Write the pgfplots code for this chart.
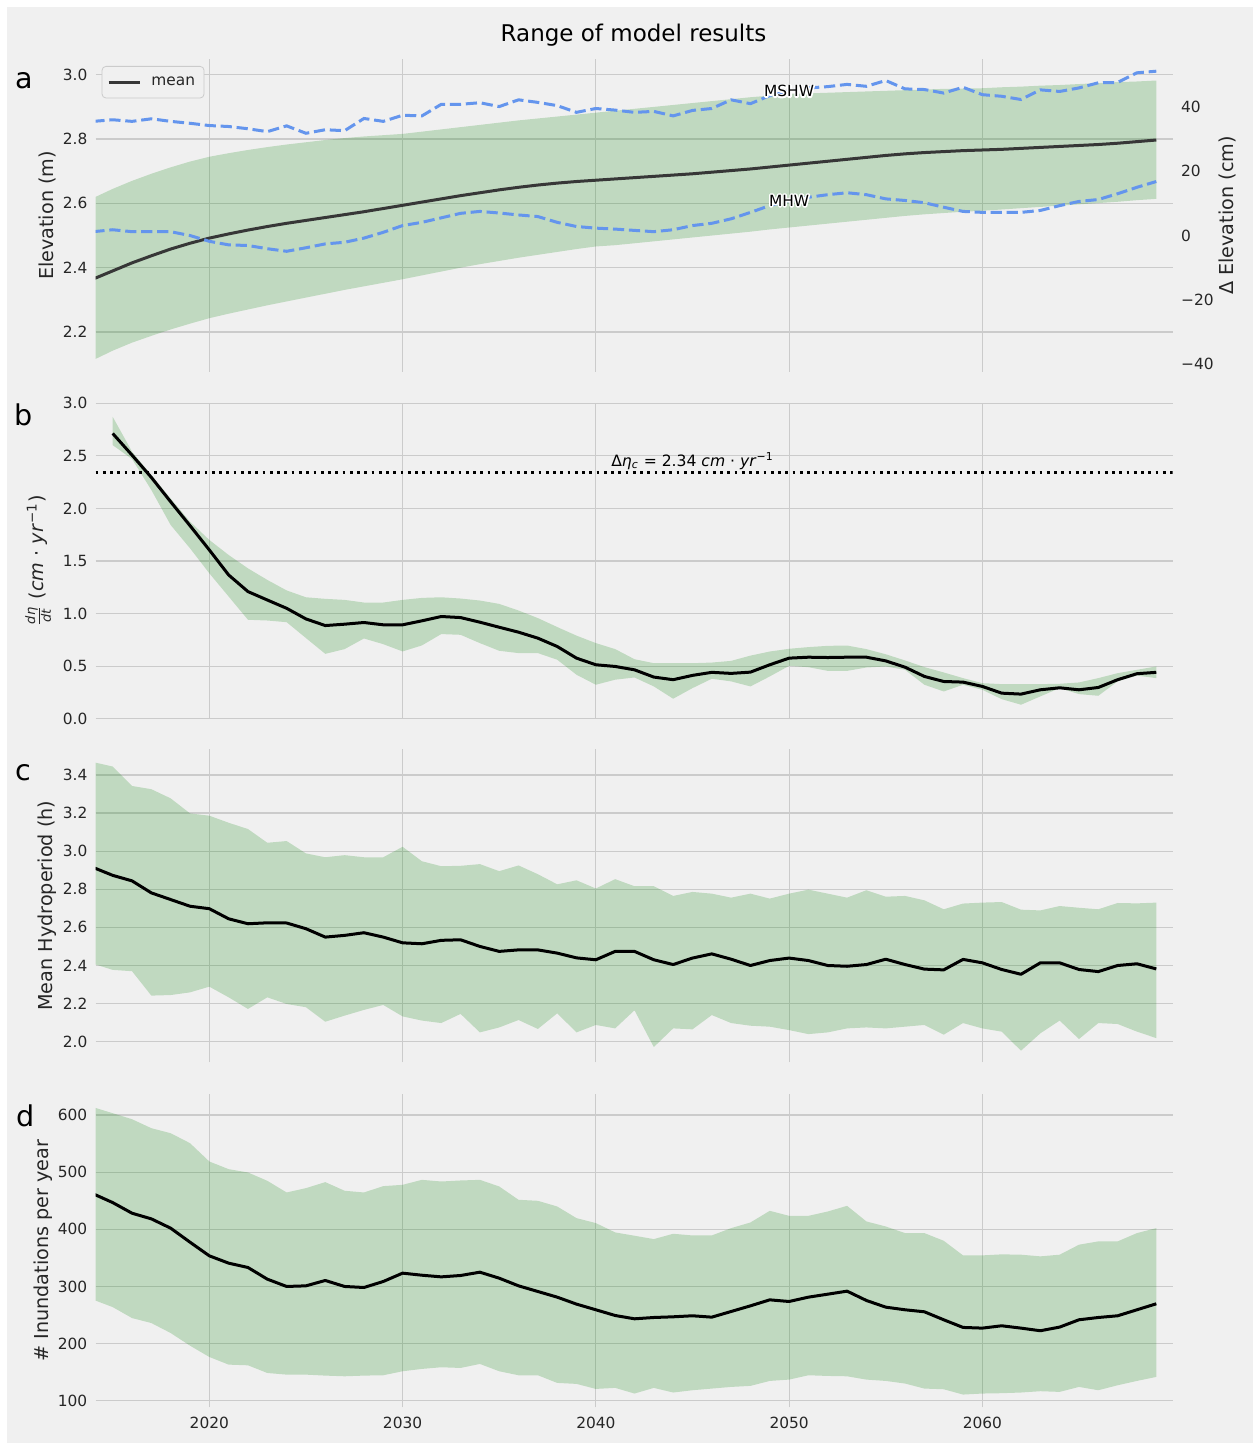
\documentclass[border=0pt]{standalone}
\usepackage{fontspec}
\setmainfont{DejaVu Sans}
\usepackage{pgfplots}
\pgfplotsset{compat=1.18}
\usepackage{pgfplotstable}
\usepgfplotslibrary{fillbetween}
\definecolor{bgc}{RGB}{240,240,240}
\definecolor{gridc}{RGB}{203,203,203}
\definecolor{bandc}{RGB}{0,128,0}
\definecolor{dashc}{RGB}{100,149,237}
\definecolor{meanA}{RGB}{55,55,55}
\definecolor{txt}{RGB}{38,38,38}
\pagecolor{bgc}
% text with a white halo (stroked copy underneath, round joins)
\newcommand{\halo}[1]{\leavevmode\rlap{\special{pdf:literal direct 2 Tr 1 1 1 RG 1.5 w 1 j}#1\special{pdf:literal direct 0 Tr 0 j}}#1}

% panel a: year, mean, upper, lower (m); MSHW, MHW (cm, right axis)
\pgfplotstableread{
year mean up lo mshw mhw
2014 2.365 2.617 2.113 35.5 1.2
2015 2.390 2.645 2.142 36.0 1.8
2016 2.415 2.670 2.167 35.5 1.2
2017 2.437 2.692 2.188 36.3 1.2
2018 2.458 2.712 2.208 35.5 1.2
2019 2.476 2.730 2.226 34.9 0.0
2020 2.492 2.745 2.243 34.2 -1.8
2021 2.505 2.756 2.257 33.9 -2.9
2022 2.517 2.766 2.270 33.2 -3.1
2023 2.528 2.775 2.283 32.3 -4.1
2024 2.538 2.783 2.295 34.1 -4.9
2025 2.547 2.790 2.307 31.8 -3.8
2026 2.556 2.797 2.319 32.9 -2.6
2027 2.565 2.803 2.331 32.6 -2.1
2028 2.574 2.808 2.342 36.4 -0.8
2029 2.584 2.812 2.353 35.5 1.0
2030 2.594 2.816 2.364 37.4 3.1
2031 2.604 2.823 2.376 37.2 4.1
2032 2.614 2.830 2.388 40.8 5.5
2033 2.624 2.837 2.400 40.8 6.9
2034 2.633 2.844 2.411 41.3 7.5
2035 2.642 2.851 2.421 40.1 7.0
2036 2.650 2.858 2.431 42.2 6.4
2037 2.657 2.864 2.440 41.4 5.9
2038 2.663 2.870 2.449 40.4 4.1
2039 2.668 2.876 2.458 38.3 2.8
2040 2.672 2.882 2.466 39.5 2.3
2041 2.676 2.888 2.470 39.0 2.0
2042 2.680 2.894 2.476 38.3 1.6
2043 2.684 2.900 2.482 38.6 1.2
2044 2.688 2.906 2.488 37.2 1.8
2045 2.692 2.912 2.494 38.9 3.1
2046 2.697 2.918 2.500 39.5 3.8
2047 2.702 2.924 2.506 42.2 5.2
2048 2.707 2.930 2.512 41.0 7.2
2049 2.713 2.935 2.519 43.5 9.3
2050 2.719 2.940 2.525 44.9 10.9
2051 2.725 2.942 2.531 45.9 11.9
2052 2.731 2.944 2.537 46.3 12.7
2053 2.737 2.946 2.543 47.0 13.3
2054 2.743 2.948 2.549 46.4 12.7
2055 2.749 2.950 2.555 48.2 11.4
2056 2.754 2.952 2.561 45.6 10.9
2057 2.758 2.954 2.566 45.4 10.2
2058 2.761 2.956 2.570 44.3 8.8
2059 2.764 2.957 2.574 46.1 7.5
2060 2.766 2.958 2.577 43.8 7.2
2061 2.768 2.961 2.581 43.3 7.2
2062 2.771 2.963 2.585 42.3 7.2
2063 2.774 2.966 2.589 45.3 7.8
2064 2.777 2.968 2.593 44.8 9.3
2065 2.780 2.971 2.597 45.9 10.6
2066 2.783 2.974 2.601 47.5 11.2
2067 2.787 2.977 2.605 47.6 13.0
2068 2.792 2.979 2.610 50.6 15.0
2069 2.797 2.982 2.614 51.1 16.8
}\tabA

% panel b: year, mean, upper, lower
\pgfplotstableread{
year mean up lo
2015 2.713 2.871 2.602
2016 2.507 2.540 2.470
2017 2.295 2.317 2.175
2018 2.063 2.095 1.842
2019 1.836 1.874 1.621
2020 1.605 1.700 1.383
2021 1.367 1.557 1.162
2022 1.209 1.430 0.941
2023 1.129 1.320 0.934
2024 1.050 1.220 0.918
2025 0.949 1.155 0.767
2026 0.886 1.140 0.617
2027 0.899 1.130 0.662
2028 0.915 1.105 0.763
2029 0.893 1.105 0.709
2030 0.893 1.130 0.640
2031 0.931 1.149 0.697
2032 0.972 1.155 0.805
2033 0.962 1.143 0.798
2034 0.918 1.124 0.719
2035 0.870 1.092 0.646
2036 0.823 1.029 0.624
2037 0.766 0.957 0.624
2038 0.687 0.872 0.561
2039 0.576 0.790 0.418
2040 0.513 0.719 0.323
2041 0.497 0.662 0.371
2042 0.465 0.566 0.392
2043 0.396 0.528 0.307
2044 0.371 0.528 0.190
2045 0.412 0.528 0.291
2046 0.441 0.534 0.380
2047 0.431 0.550 0.355
2048 0.443 0.600 0.307
2049 0.513 0.639 0.402
2050 0.576 0.665 0.503
2051 0.585 0.681 0.490
2052 0.582 0.693 0.455
2053 0.585 0.696 0.455
2054 0.585 0.662 0.487
2055 0.550 0.613 0.497
2056 0.490 0.554 0.465
2057 0.402 0.491 0.323
2058 0.354 0.440 0.259
2059 0.348 0.386 0.323
2060 0.307 0.338 0.275
2061 0.243 0.329 0.186
2062 0.234 0.329 0.133
2063 0.275 0.329 0.212
2064 0.294 0.332 0.291
2065 0.275 0.345 0.234
2066 0.297 0.386 0.218
2067 0.371 0.433 0.355
2068 0.428 0.465 0.410
2069 0.441 0.497 0.386
}\tabB

% panel c: year, mean, upper, lower
\pgfplotstableread{
year mean up lo
2014 2.914 3.467 2.409
2015 2.873 3.444 2.377
2016 2.844 3.342 2.370
2017 2.781 3.325 2.242
2018 2.746 3.277 2.245
2019 2.711 3.198 2.259
2020 2.698 3.186 2.289
2021 2.645 3.149 2.233
2022 2.619 3.116 2.172
2023 2.624 3.044 2.233
2024 2.623 3.053 2.198
2025 2.593 2.988 2.181
2026 2.549 2.968 2.105
2027 2.558 2.979 2.137
2028 2.572 2.968 2.167
2029 2.549 2.968 2.193
2030 2.519 3.023 2.133
2031 2.514 2.947 2.111
2032 2.532 2.921 2.098
2033 2.535 2.923 2.146
2034 2.500 2.932 2.049
2035 2.474 2.895 2.075
2036 2.482 2.925 2.114
2037 2.482 2.879 2.067
2038 2.465 2.826 2.149
2039 2.440 2.847 2.049
2040 2.430 2.804 2.088
2041 2.474 2.853 2.070
2042 2.474 2.816 2.165
2043 2.430 2.816 1.972
2044 2.405 2.765 2.070
2045 2.439 2.786 2.065
2046 2.461 2.777 2.140
2047 2.433 2.756 2.098
2048 2.400 2.777 2.084
2049 2.426 2.751 2.079
2050 2.439 2.777 2.061
2051 2.426 2.798 2.040
2052 2.400 2.777 2.049
2053 2.396 2.756 2.070
2054 2.405 2.795 2.075
2055 2.433 2.761 2.070
2056 2.405 2.765 2.079
2057 2.381 2.742 2.088
2058 2.377 2.695 2.037
2059 2.432 2.725 2.098
2060 2.414 2.730 2.070
2061 2.379 2.733 2.053
2062 2.354 2.693 1.953
2063 2.414 2.689 2.044
2064 2.414 2.712 2.111
2065 2.379 2.703 2.014
2066 2.368 2.695 2.098
2067 2.400 2.728 2.093
2068 2.409 2.726 2.053
2069 2.382 2.730 2.019
}\tabC

% panel d: year, mean, upper, lower
\pgfplotstableread{
year mean up lo
2014 461.9 613.5 276.6
2015 446.7 603.1 263.8
2016 428.1 592.6 244.6
2017 418.2 576.9 235.9
2018 401.9 568.1 218.4
2019 377.4 550.7 196.3
2020 353.5 518.6 176.5
2021 340.7 505.2 163.1
2022 333.1 499.4 161.9
2023 312.7 484.8 148.5
2024 299.9 464.4 145.6
2025 301.0 472.0 145.6
2026 310.4 482.5 143.9
2027 299.9 467.4 142.7
2028 298.1 464.4 143.9
2029 308.6 475.5 144.5
2030 323.2 477.8 151.5
2031 319.6 486.5 155.6
2032 316.7 483.6 158.5
2033 319.1 485.4 157.3
2034 324.9 486.5 164.3
2035 314.4 474.9 151.5
2036 301.0 451.6 144.5
2037 291.1 449.8 144.5
2038 281.2 439.9 131.1
2039 269.0 419.5 129.4
2040 259.1 410.8 120.6
2041 249.1 394.5 122.4
2042 243.3 388.7 112.5
2043 245.6 382.8 122.4
2044 246.8 392.1 114.3
2045 248.6 389.2 118.3
2046 246.2 389.2 121.2
2047 256.1 402.0 124.1
2048 266.0 411.9 125.9
2049 276.5 432.3 134.6
2050 273.6 423.5 136.9
2051 281.2 423.5 144.5
2052 286.4 431.1 143.3
2053 291.7 441.0 142.7
2054 275.4 413.7 136.9
2055 263.7 404.9 134.6
2056 259.1 393.3 130.0
2057 255.6 393.3 121.2
2058 241.6 379.9 120.0
2059 228.2 354.3 110.7
2060 227.0 354.3 112.5
2061 231.1 356.1 113.1
2062 227.0 355.5 114.3
2063 222.4 352.6 116.6
2064 228.8 355.5 115.4
2065 241.6 373.0 124.1
2066 245.6 378.8 118.3
2067 248.6 378.8 127.0
2068 259.1 393.3 134.6
2069 269.6 402.0 141.6
}\tabD

\pgfplotsset{
  panel/.style={
    scale only axis, width=538.5pt, anchor=south west,
    xmin=2014.12, xmax=2069.85,
    xtick={2020,2030,2040,2050,2060},
    xticklabels={},
    grid=major,
    major grid style={color=gridc, line width=0.6pt},
    axis line style={draw=none},
    major tick length=0pt, minor tick length=0pt,
    ticklabel style={font=\fontsize{7.7}{9}\selectfont, text=txt},
    yticklabel style={anchor=east, inner sep=0pt, xshift=-4pt},
    ylabel style={font=\fontsize{9.6}{11}\selectfont, text=txt, anchor=center},
    clip=true,
  },
  band/.style={fill=bandc, fill opacity=0.2, draw=none},
  meanline/.style={black, line width=1.5pt, line join=round},
}

\begin{document}
\begin{tikzpicture}
\path (0pt,0pt) rectangle (626.5pt,-721.5pt);
\fill[white] (0pt,0pt) rectangle (626.5pt,-3.5pt);
\fill[white] (0pt,0pt) rectangle (3.5pt,-721.5pt);

\node[anchor=base, font=\fontsize{11.5}{13}\selectfont, text=black] at (316.75pt,-20.75pt) {Range of model results};

% ---------- panel a ----------
\begin{axis}[panel, at={(47.85pt,-185.85pt)}, height=156.2pt,
  ymin=2.0766, ymax=3.048,
  ytick={2.2,2.4,2.6,2.8,3.0}, yticklabels={2.2,2.4,2.6,2.8,3.0},
  ylabel={Elevation (m)},
  ylabel style={at={(axis description cs:-0.0452,0.5)}},
  legend style={at={(rel axis cs:0.0055,0.9786)}, anchor=north west,
    draw=gridc, fill=bgc, rounded corners=2pt,
    font=\fontsize{7.7}{9}\selectfont, text=txt,
    inner xsep=2.5pt, inner ysep=3pt,
    /tikz/every odd column/.style={column sep=3.2pt}},
  legend cell align=left,
  legend image code/.code={\draw[#1] (0pt,0pt) -- (15.5pt,0pt);},
]
\addplot[name path=aU, draw=none, forget plot] table[x=year,y=up]{\tabA};
\addplot[name path=aL, draw=none, forget plot] table[x=year,y=lo]{\tabA};
\addplot[band, forget plot] fill between[of=aU and aL];
\addplot[meanA, line width=1.5pt] table[x=year,y=mean]{\tabA};
\addlegendentry{mean}
\end{axis}

\begin{axis}[scale only axis, width=538.5pt, height=156.2pt, anchor=south west,
  at={(47.85pt,-185.85pt)},
  xmin=2014.12, xmax=2069.85, xtick=\empty,
  axis x line=none, axis y line*=right,
  axis line style={draw=none},
  major tick length=0pt,
  ymin=-42.34, ymax=54.8,
  ytick={-40,-20,0,20,40}, yticklabels={−40,−20,0,20,40},
  ticklabel style={font=\fontsize{7.7}{9}\selectfont, text=txt},
  yticklabel style={anchor=west, inner sep=0pt, xshift=4pt},
  ylabel={Δ Elevation (cm)},
  ylabel style={font=\fontsize{9.6}{11}\selectfont, text=txt, anchor=center,
    at={(axis description cs:1.0504,0.5)}},
]
\addplot[dashc, line width=1.5pt, dash pattern=on 5.6pt off 2.4pt] table[x=year,y=mshw]{\tabA};
\addplot[dashc, line width=1.5pt, dash pattern=on 5.6pt off 2.4pt] table[x=year,y=mhw]{\tabA};
\node[font=\fontsize{7.7}{9}\selectfont, text=black] at (axis cs:2050,44.9) {\halo{MSHW}};
\node[font=\fontsize{7.7}{9}\selectfont, text=black] at (axis cs:2050,10.9) {\halo{MHW}};
\end{axis}

% ---------- panel b ----------
\begin{axis}[panel, at={(47.85pt,-359.35pt)}, height=157.7pt,
  ymin=0, ymax=3.0,
  ytick={0,0.5,1,1.5,2,2.5,3}, yticklabels={0.0,0.5,1.0,1.5,2.0,2.5,3.0},
  ylabel={$\frac{\hbox{\fontsize{6.5}{7}\selectfont\itshape dη}}{\hbox{\fontsize{6.5}{7}\selectfont\itshape dt}}$ (\textit{cm} · \textit{yr}\textsuperscript{−1})},
  ylabel style={at={(axis description cs:-0.0535,0.5)}},
]
\addplot[name path=bU, draw=none, forget plot] table[x=year,y=up]{\tabB};
\addplot[name path=bL, draw=none, forget plot] table[x=year,y=lo]{\tabB};
\addplot[band] fill between[of=bU and bL];
\addplot[meanline] table[x=year,y=mean]{\tabB};
\addplot[black, line width=1.37pt, dash pattern=on 1.37pt off 2.26pt] coordinates {(2014.12,2.34) (2069.85,2.34)};
\node[anchor=base, inner sep=0pt, font=\fontsize{7.8}{9}\selectfont, text=black] at (axis cs:2045,2.34) [yshift=3.3pt] {Δ\textit{η}\textsubscript{\textit{c}} = 2.34 \textit{cm} · \textit{yr}\textsuperscript{−1}};
\end{axis}

% ---------- panel c ----------
\begin{axis}[panel, at={(47.85pt,-531.15pt)}, height=156.65pt,
  ymin=1.892, ymax=3.536,
  ytick={2.0,2.2,2.4,2.6,2.8,3.0,3.2,3.4}, yticklabels={2.0,2.2,2.4,2.6,2.8,3.0,3.2,3.4},
  ylabel={Mean Hydroperiod (h)},
  ylabel style={at={(axis description cs:-0.0448,0.5)}},
]
\addplot[name path=cU, draw=none, forget plot] table[x=year,y=up]{\tabC};
\addplot[name path=cL, draw=none, forget plot] table[x=year,y=lo]{\tabC};
\addplot[band] fill between[of=cU and cL];
\addplot[meanline] table[x=year,y=mean]{\tabC};
\end{axis}

% ---------- panel d ----------
\begin{axis}[panel, at={(47.85pt,-703.65pt)}, height=156.5pt,
  ymin=88.4, ymax=636.2,
  ytick={100,200,300,400,500,600}, yticklabels={100,200,300,400,500,600},
  xticklabels={2020,2030,2040,2050,2060},
  xticklabel style={anchor=north, inner sep=0pt, yshift=-4.5pt},
  ylabel={\# Inundations per year},
  ylabel style={at={(axis description cs:-0.0492,0.5)}},
]
\addplot[name path=dU, draw=none, forget plot] table[x=year,y=up]{\tabD};
\addplot[name path=dL, draw=none, forget plot] table[x=year,y=lo]{\tabD};
\addplot[band] fill between[of=dU and dL];
\addplot[meanline] table[x=year,y=mean]{\tabD};
\end{axis}

\node[anchor=base, font=\fontsize{14.3}{16}\selectfont, text=black] at (12.25pt,-44.15pt) {a};
\node[anchor=base, font=\fontsize{14.3}{16}\selectfont, text=black] at (12pt,-212.5pt) {b};
\node[anchor=base, font=\fontsize{14.3}{16}\selectfont, text=black] at (11.85pt,-390pt) {c};
\node[anchor=base, font=\fontsize{14.3}{16}\selectfont, text=black] at (12.85pt,-563.35pt) {d};
\end{tikzpicture}
\end{document}
